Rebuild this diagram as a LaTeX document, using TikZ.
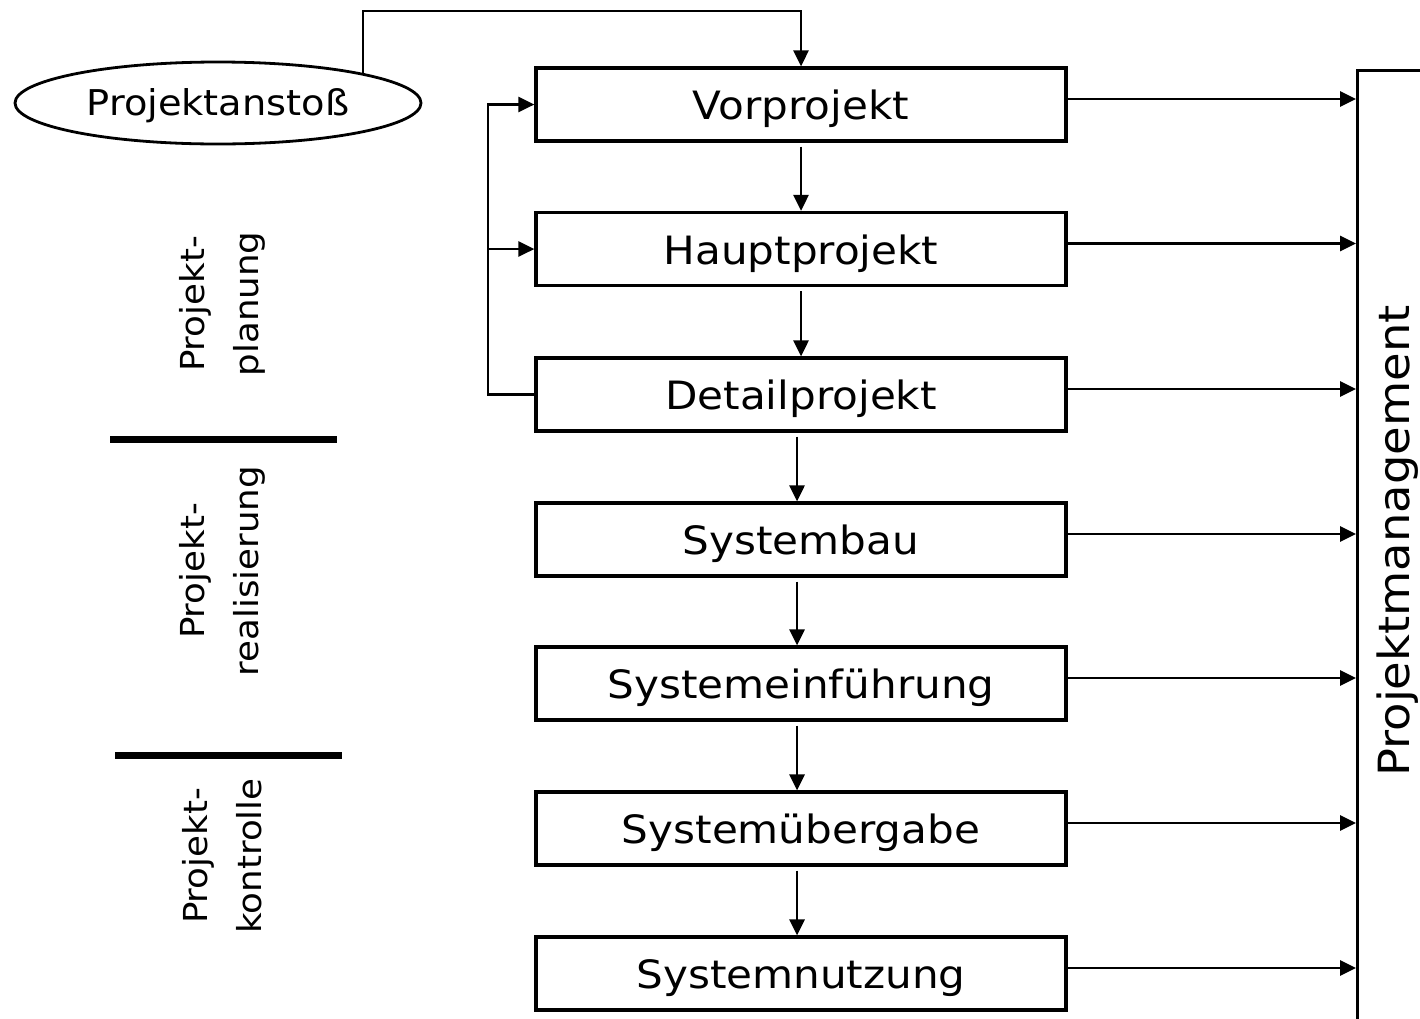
\documentclass[tikz,border=0pt]{standalone}
\usepackage{fontspec}
\setmainfont[FakeStretch=1.08]{DejaVu Sans}
\usetikzlibrary{arrows.meta,shapes.geometric}
\begin{document}
\begin{tikzpicture}[x=1pt,y=-1pt,
  conn/.style={line width=2.8pt},
  arr/.style={conn,-{Triangle[length=16pt,width=15pt]}},
  stepbox/.style={draw,line width=3.2pt,minimum width=530pt,minimum height=73pt,inner sep=0pt,
                  text height=36pt,text depth=6pt,font=\fontsize{39}{47}\selectfont},
  sidelabel/.style={rotate=90,align=center,inner sep=0pt,font=\fontsize{33}{54}\selectfont},
  sepline/.style={line width=7pt}]
\useasboundingbox[fill=white] (0,0) rectangle (1420,1018);

% process steps
\node[stepbox] (v1) at (801,104.5) {Vorprojekt};
\node[stepbox] (v2) at (801,249) {Hauptprojekt};
\node[stepbox] (v3) at (801,394.5) {Detailprojekt};
\node[stepbox] (v4) at (801,539.5) {Systembau};
\node[stepbox] (v5) at (801,683.5) {Systemeinführung};
\node[stepbox] (v6) at (801,828.5) {Systemübergabe};
\node[stepbox] (v7) at (801,973.5) {Systemnutzung};

% start ellipse
\node[draw,ellipse,line width=2.8pt,minimum width=406pt,minimum height=82pt,inner sep=0pt,
      text height=32pt,text depth=8pt,font=\fontsize{35.5}{40}\selectfont] (st) at (218,103) {Projektanstoß};

% management box
\node[draw,line width=2.8pt,anchor=north west,minimum width=200pt,minimum height=1000pt,inner sep=0pt] (pm) at (1356,69) {};
\node[rotate=90,anchor=base,inner sep=0pt,font=\fontsize{43}{50}\selectfont] (pmt) at (1409,541) {Projektmanagement};

% side labels
\node[sidelabel] (l1) at (222,304) {Projekt-\\planung};
\node[sidelabel] (l2) at (222,571) {Projekt-\\realisierung};
\node[sidelabel] (l3) at (222,856) {Projekt-\\kontrolle};

% separators
\coordinate (s1a) at (110,439);
\coordinate (s1b) at (337,439);
\coordinate (s2a) at (115,755);
\coordinate (s2b) at (342,755);
\draw[sepline] (s1a) -- (s1b);
\draw[sepline] (s2a) -- (s2b);

% start connector
\coordinate (top) at (801,11);
\draw[arr] ([shift={(145pt,28.7pt)}]st.center) |- (top) -- (v1.north);

% vertical flow
\draw[arr,shorten <=4pt] (v1.south) -- (v2.north);
\draw[arr,shorten <=4pt] (v2.south) -- (v3.north);
\draw[arr,shorten <=4pt] ([xshift=-4pt]v3.south) -- ([xshift=-4pt]v4.north);
\draw[arr,shorten <=4pt] ([xshift=-4pt]v4.south) -- ([xshift=-4pt]v5.north);
\draw[arr,shorten <=4pt] ([xshift=-4pt]v5.south) -- ([xshift=-4pt]v6.north);
\draw[arr,shorten <=4pt] ([xshift=-4pt]v6.south) -- ([xshift=-4pt]v7.north);

% feedback loop
\coordinate (fb) at (488,394.5);
\draw[arr] (v3.west) -- (fb) |- (v1.west);
\draw[arr] (fb |- v2.west) -- (v2.west);

% arrows to management
\foreach \n in {v1,v2,v3,v4,v5,v6,v7}{
  \draw[arr] ([yshift=5.5pt]\n.east) coordinate (tmp) -- (tmp -| pm.west);
}
\end{tikzpicture}
\end{document}
